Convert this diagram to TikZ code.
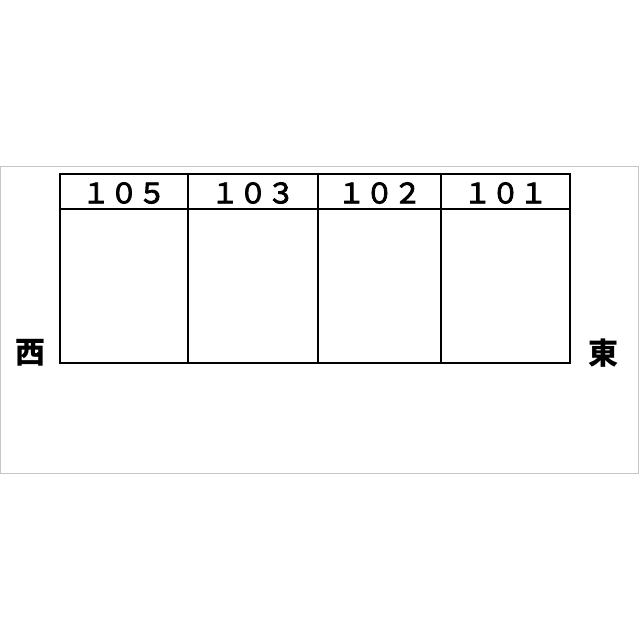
\documentclass[tikz,border=0pt]{standalone}
\usepackage{fontspec}
\newfontfamily\jpfont{Noto Sans CJK JP}
\newfontfamily\jpnofont[FakeBold=3]{Noto Sans CJK JP}
\usetikzlibrary{positioning,calc}
\tikzset{
	room/.style={draw=black, line width=1.6pt},
	roomno/.style={font=\jpnofont\fontsize{28pt}{28pt}\selectfont, inner sep=0pt},
	compass/.style={font=\jpfont\bfseries\fontsize{30pt}{30pt}\selectfont, inner sep=0pt}
}

\begin{document}
\begin{tikzpicture}[x=1pt, y=-1pt]
	\useasboundingbox (0,0) rectangle (639,640);
	\draw[gray!45, line width=1pt] (0.5,166) rectangle (638.5,473);
	% rooms, west to east
	\foreach \xa/\xb/\num [count=\i] in {60/188/１０５, 188/318/１０３, 318/441/１０２, 441/570/１０１} {
		\draw[room] (\xa,174) rectangle (\xb,363);
		\draw[room] (\xa,209) -- (\xb,209);
		\node[roomno] (no\i) at ({(\xa+\xb)/2},193) {\num};
	}
	\node[compass] (west) at (31,353) {西};
	\node[compass] (east) at (603,353) {東};
\end{tikzpicture}
\end{document}
